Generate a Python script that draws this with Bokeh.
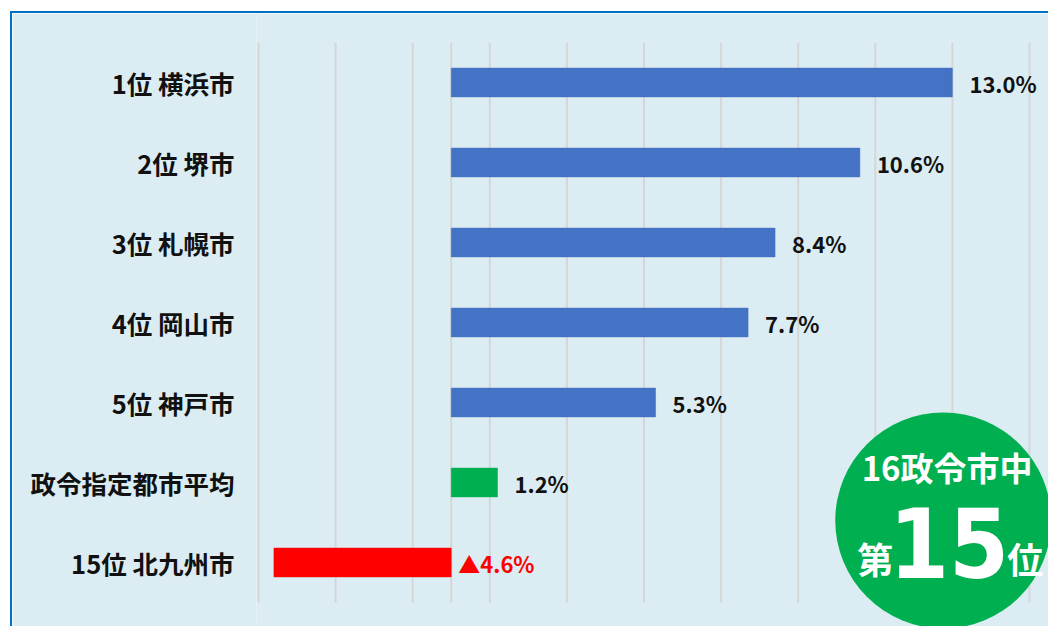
from bokeh.plotting import figure
from bokeh.models import Range1d, FixedTicker, LinearAxis, ColumnDataSource
from bokeh.core.properties import value
from bokeh.embed import file_html
from bokeh.resources import INLINE

# ---- data ----
categories = ["1位 横浜市", "2位 堺市", "3位 札幌市", "4位 岡山市",
              "5位 神戸市", "政令指定都市平均", "15位 北九州市"]
values = [13.0, 10.6, 8.4, 7.7, 5.3, 1.2, -4.6]
value_labels = ["13.0%", "10.6%", "8.4%", "7.7%", "5.3%", "1.2%", "▲4.6%"]
bar_colors = ["#4472C4"] * 5 + ["#00B050", "#FF0000"]
label_colors = ["#111111"] * 6 + ["#FF0000"]
grid_ticks = [-5, -3, -1, 1, 3, 5, 7, 9, 11, 13, 15]
badge_top = "16政令市中"
badge_rank = "15"
badge_left = "第"
badge_right = "位"

# ---- layout ----
W, H = 1038, 615
LEFT = 244
PX_PER_UNIT = 38.55
ROW_PX = 80.0
FIRST_ROW_PX = 69.0

x_start = grid_ticks[0] - 2 / PX_PER_UNIT
x_end = x_start + (W - LEFT) / PX_PER_UNIT
y_top = -FIRST_ROW_PX / ROW_PX
y_bottom = y_top + H / ROW_PX

FONT = "Noto Sans CJK JP"
BG = "#DBEDF3"
GRID = "#D6D6D6"

p = figure(width=W, height=H, output_backend="svg", toolbar_location=None,
           x_range=Range1d(x_start, x_end), y_range=Range1d(y_bottom, y_top),
           x_axis_location=None, y_axis_location=None,
           min_border_left=LEFT, min_border_right=0, min_border_top=0, min_border_bottom=0)
p.styles = {"margin-left": "10px", "margin-top": "11px",
            "border-left": "2px solid #0070C0", "border-top": "2px solid #0070C0"}
p.background_fill_color = BG
p.border_fill_color = BG
p.outline_line_color = None
p.grid.visible = False

idx = list(range(len(categories)))

# category axis
yaxis = LinearAxis(ticker=FixedTicker(ticks=idx),
                   major_label_overrides={i: c for i, c in zip(idx, categories)})
yaxis.axis_line_color = None
yaxis.major_tick_line_color = None
yaxis.minor_tick_line_color = None
yaxis.major_tick_in = 0
yaxis.major_tick_out = 0
yaxis.major_label_standoff = 22
yaxis.major_label_text_font = FONT
yaxis.major_label_text_font_style = "bold"
yaxis.major_label_text_font_size = "25.5px"
yaxis.major_label_text_color = "#111111"
p.add_layout(yaxis, "left")

# vertical grid lines
n = len(categories)
p.segment(x0=grid_ticks, x1=grid_ticks, y0=[-0.5] * len(grid_ticks), y1=[n - 0.5] * len(grid_ticks),
          line_color=GRID, line_width=2)
p.segment(x0=[0], x1=[0], y0=[-0.5], y1=[n - 0.5], line_color=GRID, line_width=2)

# bars
src = ColumnDataSource(dict(
    y=idx, right=values, color=bar_colors,
    lx=[max(v, 0) for v in values],
    loff=[17 if v >= 0 else 7 for v in values],
    lab=value_labels, lcol=label_colors))
p.hbar(y="y", left=0, right="right", height=0.36, fill_color="color",
       line_color="color", line_alpha=0.5, source=src)
p.text(x="lx", y="y", text="lab", x_offset="loff", text_color="lcol",
       text_font=value(FONT), text_font_style="bold", text_font_size="22px",
       text_baseline="middle", text_align="left", source=src)

# badge
bx = (943 - 451) / PX_PER_UNIT
by = (520 - 82) / ROW_PX
p.scatter(x=[bx], y=[by], size=216, marker="circle", fill_color="#00B050", line_color=None)
p.text(x=[bx + 0.1], y=[(466 - 82) / ROW_PX], text=[badge_top], text_color="white",
       text_font=value(FONT), text_font_style="bold", text_font_size="33px",
       text_align="center", text_baseline="middle")
p.text(x=[bx + 0.15], y=[(542 - 82) / ROW_PX], text=[badge_rank], text_color="white",
       text_font=value("DejaVu Sans Condensed, Roboto"), text_font_style="bold", text_font_size="96px",
       text_align="center", text_baseline="middle")
p.text(x=[(875 - 451) / PX_PER_UNIT], y=[(557 - 82) / ROW_PX], text=[badge_left], text_color="white",
       text_font=value(FONT), text_font_style="bold", text_font_size="36px",
       text_align="center", text_baseline="middle")
p.text(x=[(1025 - 451) / PX_PER_UNIT], y=[(557 - 82) / ROW_PX], text=[badge_right], text_color="white",
       text_font=value(FONT), text_font_style="bold", text_font_size="36px",
       text_align="center", text_baseline="middle")

open("out.html", "w").write(file_html(p, INLINE))
